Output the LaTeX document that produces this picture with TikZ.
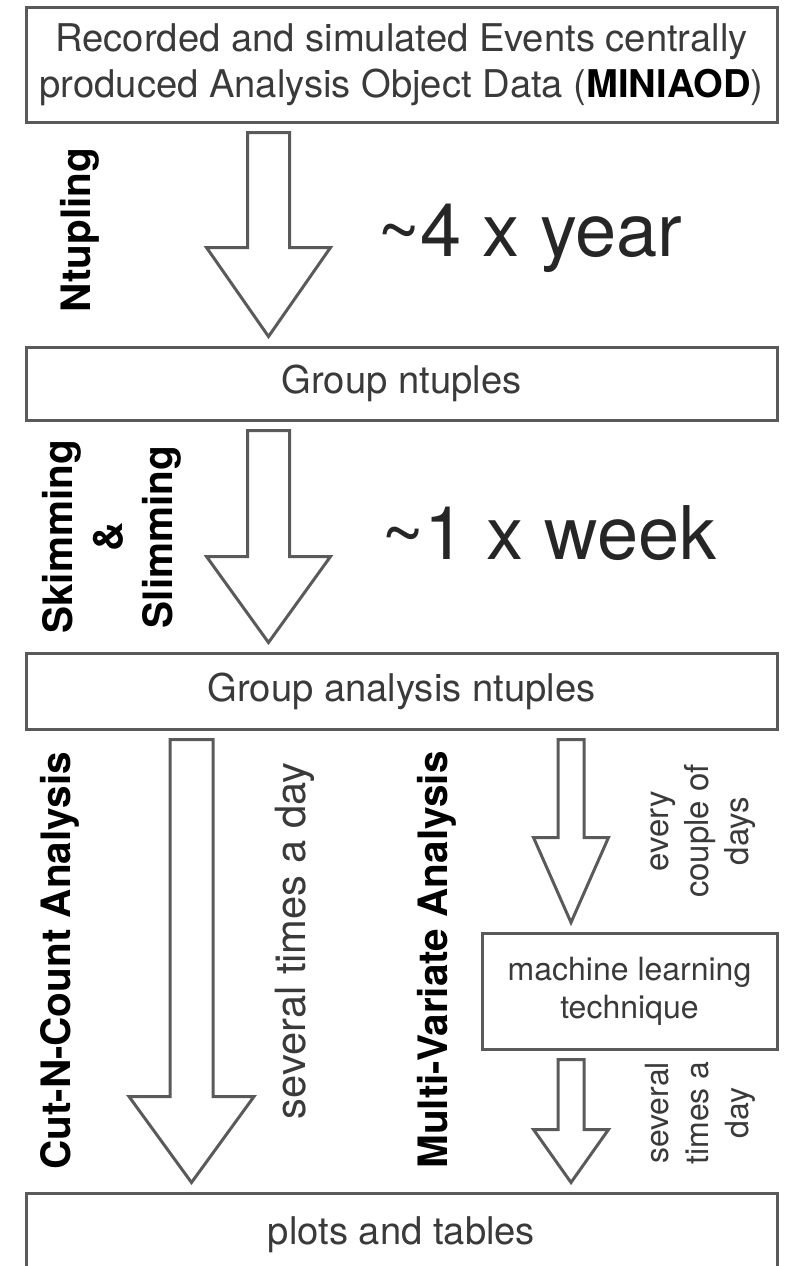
\documentclass[tikz,border=0pt]{standalone}
\usepackage{fontspec}
\setmainfont{TeX Gyre Heros}
\usetikzlibrary{calc}

\definecolor{linegray}{HTML}{5A5A5A}
\definecolor{textgray}{HTML}{3A3A3A}

\tikzset{
  box/.style={draw=linegray, line width=3pt, fill=white, minimum width=751pt,
    inner sep=0pt, align=center, text=textgray, font=\fontsize{38.2}{46}\selectfont},
  arrowline/.style={draw=linegray, line width=3pt, line join=miter, fill=white},
  process/.style={rotate=90, align=center, font=\bfseries\fontsize{40.5}{50}\selectfont},
  rate/.style={rotate=90, align=center, text=textgray},
  freq/.style={text=black!85, font=\fontsize{74}{80}\selectfont},
}

% hollow block arrow: x, from node, to node, shaft half width, head half width, head length
\newcommand{\fatarrow}[6]{%
  \draw[arrowline] let \p1 = (#1,0 |- #2.south), \p2 = (#1,0 |- #3.north) in
    (\x1-#4pt,\y1-9pt) -- (\x1+#4pt,\y1-9pt) -- (\x1+#4pt,\y2+9pt+#6pt)
    -- (\x1+#5pt,\y2+9pt+#6pt) -- (\x1,\y2+9pt) -- (\x1-#5pt,\y2+9pt+#6pt)
    -- (\x1-#4pt,\y2+9pt+#6pt) -- cycle;
}

\begin{document}
\begin{tikzpicture}[x=1pt, y=-1pt]
  \useasboundingbox (0,0) rectangle (790,1266);
  \clip (0,0) rectangle (790,1266);

  % Data boxes
  \node[box, minimum height=115pt] (rec) at (401.5,64.5)
    {Recorded and simulated Events centrally\\produced Analysis Object Data ({\color{black}\bfseries MINIAOD})};
  \node[box, minimum height=73pt] (grp) at (401.5,383.5) {Group ntuples};
  \node[box, minimum height=76pt] (ana) at (401.5,691) {Group analysis ntuples};
  \node[box, minimum width=295pt, minimum height=116pt, font=\fontsize{32}{38}\selectfont]
    (mlt) at (629.5,991) {machine learning\\technique};
  \node[box, minimum height=84pt] (out) at (401.5,1235) {plots and tables};

  % Arrows between the boxes
  \fatarrow{268.5}{rec}{grp}{21}{62}{89}
  \fatarrow{268.5}{grp}{ana}{21}{62}{86}
  \fatarrow{191.5}{ana}{out}{21.5}{62.5}{86}
  \fatarrow{571}{ana}{mlt}{13}{37.5}{85}
  \fatarrow{571}{mlt}{out}{13}{37.5}{53}

  % Processing steps
  \node[process] (ntp) at (80,230) {Ntupling};
  \node[process] (skm) at (111.5,537) {Skimming\\\&\\Slimming};
  \node[process] (cnc) at (60,961) {Cut-N-Count Analysis};
  \node[process] (mva) at (437,960) {Multi-Variate Analysis};

  % How often
  \node[freq] (yr) at (530,238) {\textasciitilde 4 x year};
  \node[freq] (wk) at (549,533) {\textasciitilde 1 x week};
  \node[rate, font=\fontsize{41.7}{50}\selectfont] (day) at (295,941) {several times a day};
  \node[rate, font=\fontsize{33}{40}\selectfont] (cpl) at (703,831) {every\\couple of\\days};
  \node[rate, font=\fontsize{32}{40}\selectfont] (sev) at (700,1113) {several\\times a\\day};
\end{tikzpicture}
\end{document}
